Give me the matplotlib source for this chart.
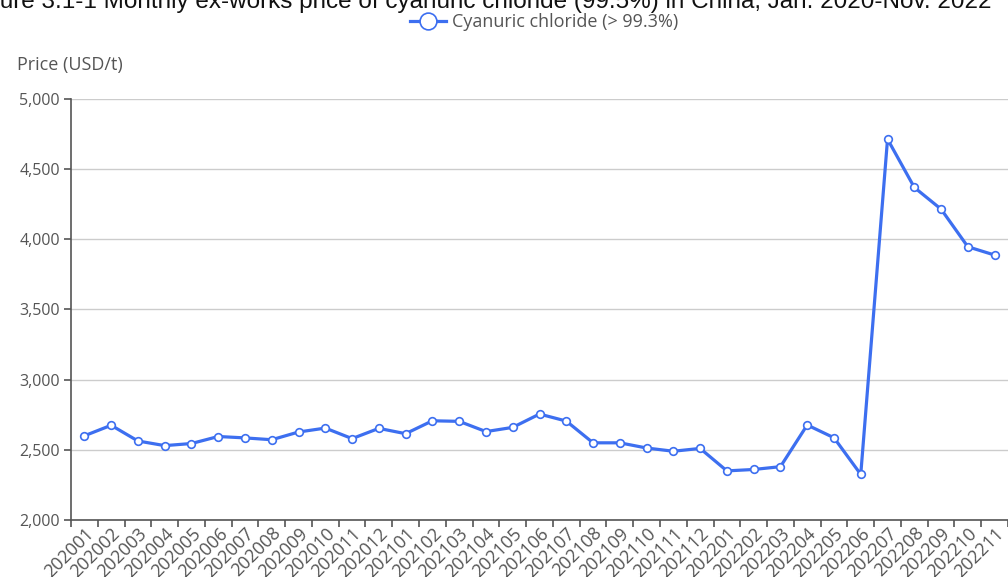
import matplotlib
matplotlib.use('Agg')
from matplotlib import pyplot as plt
from matplotlib.ticker import FuncFormatter

months = ['202001', '202002', '202003', '202004', '202005', '202006', '202007',
          '202008', '202009', '202010', '202011', '202012', '202101', '202102',
          '202103', '202104', '202105', '202106', '202107', '202108', '202109',
          '202110', '202111', '202112', '202201', '202202', '202203', '202204',
          '202205', '202206', '202207', '202208', '202209', '202210', '202211']
prices = [2600, 2675, 2563, 2530, 2545, 2595, 2585, 2572, 2627, 2655, 2580, 2653,
          2615, 2707, 2703, 2630, 2660, 2755, 2705, 2550, 2550, 2513, 2490, 2510,
          2350, 2360, 2380, 2677, 2586, 2325, 4714, 4370, 4215, 3947, 3888]
series_name = 'Cyanuric chloride (> 99.3%)'
title = 'Figure 3.1-1 Monthly ex-works price of cyanuric chloride (99.5%) in China, Jan. 2020-Nov. 2022'

plt.rcParams['font.family'] = ['Open Sans', 'DejaVu Sans']
blue = '#3d6ff0'
axis_col = '#555555'
text_col = '#555555'

fig = plt.figure(figsize=(10.08, 5.77), dpi=100)
ax = fig.add_axes([71/1008, 1 - 520/577, 1 - 71/1008, (520 - 99)/577])

x = list(range(len(months)))
ax.plot(x, prices, color=blue, lw=2.3, marker='o', ms=5.5, mfc='white',
        mec=blue, mew=1.2, label=series_name, zorder=3)

ax.set_xlim(-0.5, len(months) - 0.5)
ax.set_ylim(2000, 5000)
ax.set_yticks(range(2000, 5001, 500))
ax.yaxis.set_major_formatter(FuncFormatter(lambda v, p: f'{int(v):,}'))
ax.grid(axis='y', color='#cccccc', lw=1, zorder=0)

for s in ['top', 'right']:
    ax.spines[s].set_visible(False)
ax.spines['left'].set_color(axis_col)
ax.spines['bottom'].set_color(axis_col)
ax.spines['left'].set_linewidth(1.2)
ax.spines['bottom'].set_linewidth(1.2)

ax.set_xticks(x)
ax.set_xticklabels(months, rotation=45, ha='right', va='top', rotation_mode='anchor',
                   fontsize=13, color=text_col)
ax.tick_params(axis='x', which='major', length=0, pad=3)
ax.set_xticks([i - 0.5 for i in range(len(months) + 1)], minor=True)
ax.tick_params(axis='x', which='minor', length=5, color=axis_col, width=1.2)
ax.tick_params(axis='y', length=5, color=axis_col, width=1.2, labelsize=11.5,
               labelcolor=text_col, pad=3)

fig.text(17/1008, 1 - 65/577, 'Price (USD/t)', fontsize=13, color=text_col,
         ha='left', va='center')

# title is cut off at the top of the picture
fig.text(-34/1008, 1 - 8/577, title, fontsize=17.5, family=['Liberation Sans'],
         color='#111111', ha='left', va='baseline')

fig.legend(loc='center', bbox_to_anchor=(544/1008, 1 - 22/577), frameon=False,
           fontsize=13, labelcolor=text_col, handlelength=2.0, markerscale=2.2,
           handletextpad=0.3)

fig.savefig('out.png', dpi=100)
